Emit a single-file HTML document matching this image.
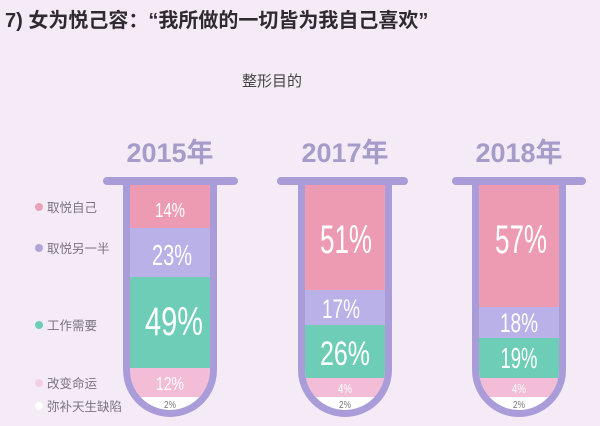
<!DOCTYPE html>
<html><head><meta charset="utf-8"><style>
body{margin:0;background:#f4ebf6;}
svg{display:block}
.t{font-family:"Liberation Sans","Noto Sans CJK SC",sans-serif}
.p{font-family:"Liberation Sans",sans-serif;fill:#fff;text-anchor:middle}
.lg{font-family:"Liberation Sans","Noto Sans CJK SC",sans-serif;font-size:12.5px;fill:#7a7380}
</style></head><body>
<svg width="600" height="426" viewBox="0 0 600 426" xmlns="http://www.w3.org/2000/svg">
<rect width="600" height="426" fill="#f4ebf6"/>
<text class="t" x="5" y="27" font-size="20" font-weight="bold" fill="#2e2a30">7) 女为悦己容：“我所做的一切皆为我自己喜欢”</text>
<text class="t" x="272" y="86" font-size="15" fill="#444" text-anchor="middle">整形目的</text>
<g class="t" font-size="27" font-weight="bold" fill="#a59cc9" text-anchor="middle">
<text x="170" y="162">2015年</text><text x="345" y="162">2017年</text><text x="519" y="162">2018年</text>
</g>
<defs>
<clipPath id="c1"><path d="M130 185 V370 A40 40 0 0 0 210 370 V185 Z"/></clipPath>
<clipPath id="c2"><path d="M305 185 V370 A40 40 0 0 0 385 370 V185 Z"/></clipPath>
<clipPath id="c3"><path d="M479 185 V370 A40 40 0 0 0 559 370 V185 Z"/></clipPath>
</defs>
<g clip-path="url(#c1)">
<rect x="125" y="185" width="90" height="43" fill="#ec9bb2"/>
<rect x="125" y="228" width="90" height="49" fill="#b9b1e8"/>
<rect x="125" y="277" width="90" height="91" fill="#6ecdb7"/>
<rect x="125" y="368" width="90" height="29" fill="#f3bcd7"/>
<rect x="125" y="397" width="90" height="30" fill="#fff"/>
</g>
<g clip-path="url(#c2)">
<rect x="300" y="185" width="90" height="105" fill="#ec9bb2"/>
<rect x="300" y="290" width="90" height="35" fill="#b9b1e8"/>
<rect x="300" y="325" width="90" height="53" fill="#6ecdb7"/>
<rect x="300" y="378" width="90" height="19" fill="#f3bcd7"/>
<rect x="300" y="397" width="90" height="30" fill="#fff"/>
</g>
<g clip-path="url(#c3)">
<rect x="474" y="185" width="90" height="122" fill="#ec9bb2"/>
<rect x="474" y="307" width="90" height="31" fill="#b9b1e8"/>
<rect x="474" y="338" width="90" height="40" fill="#6ecdb7"/>
<rect x="474" y="378" width="90" height="19" fill="#f3bcd7"/>
<rect x="474" y="397" width="90" height="30" fill="#fff"/>
</g>
<g fill="none" stroke="#a99cd8" stroke-width="7">
<path d="M126.5 183 V370 A43.5 43.5 0 0 0 213.5 370 V183"/>
<path d="M301.5 183 V370 A43.5 43.5 0 0 0 388.5 370 V183"/>
<path d="M475.5 183 V370 A43.5 43.5 0 0 0 562.5 370 V183"/>
</g>
<g stroke="#a99cd8" stroke-width="8" stroke-linecap="round">
<line x1="107" y1="181" x2="234" y2="181"/>
<line x1="281" y1="181" x2="404" y2="181"/>
<line x1="456" y1="181" x2="582" y2="181"/>
</g>
<text class="p" x="170" y="217" font-size="20" textLength="30" lengthAdjust="spacingAndGlyphs">14%</text>
<text class="p" x="172" y="265" font-size="29" textLength="40" lengthAdjust="spacingAndGlyphs">23%</text>
<text class="p" x="174" y="335" font-size="40" textLength="58" lengthAdjust="spacingAndGlyphs">49%</text>
<text class="p" x="170" y="390" font-size="18" textLength="28" lengthAdjust="spacingAndGlyphs">12%</text>
<text class="p" x="170" y="408" font-size="10" textLength="12" lengthAdjust="spacingAndGlyphs" style="fill:#777">2%</text>
<text class="p" x="346" y="253" font-size="40" textLength="52" lengthAdjust="spacingAndGlyphs">51%</text>
<text class="p" x="341" y="318" font-size="27" textLength="38" lengthAdjust="spacingAndGlyphs">17%</text>
<text class="p" x="345" y="365" font-size="34" textLength="50" lengthAdjust="spacingAndGlyphs">26%</text>
<text class="p" x="345" y="393" font-size="13" textLength="14" lengthAdjust="spacingAndGlyphs">4%</text>
<text class="p" x="345" y="408" font-size="10" textLength="12" lengthAdjust="spacingAndGlyphs" style="fill:#777">2%</text>
<text class="p" x="521" y="253" font-size="40" textLength="52" lengthAdjust="spacingAndGlyphs">57%</text>
<text class="p" x="519" y="332" font-size="27" textLength="38" lengthAdjust="spacingAndGlyphs">18%</text>
<text class="p" x="519" y="368" font-size="29" textLength="37" lengthAdjust="spacingAndGlyphs">19%</text>
<text class="p" x="519" y="393" font-size="13" textLength="14" lengthAdjust="spacingAndGlyphs">4%</text>
<text class="p" x="519" y="408" font-size="10" textLength="12" lengthAdjust="spacingAndGlyphs" style="fill:#777">2%</text>
<circle cx="39" cy="207" r="4" fill="#e9a3b8"/>
<circle cx="39" cy="248" r="4" fill="#b1a6dc"/>
<circle cx="39" cy="325" r="4" fill="#6ecdb7"/>
<circle cx="39" cy="383" r="4" fill="#f4cfe2"/>
<circle cx="39" cy="406" r="4" fill="#fff"/>
<text class="lg" x="47" y="212">取悦自己</text>
<text class="lg" x="47" y="253">取悦另一半</text>
<text class="lg" x="47" y="330">工作需要</text>
<text class="lg" x="47" y="388">改变命运</text>
<text class="lg" x="47" y="411">弥补天生缺陷</text>
</svg>
</body></html>
